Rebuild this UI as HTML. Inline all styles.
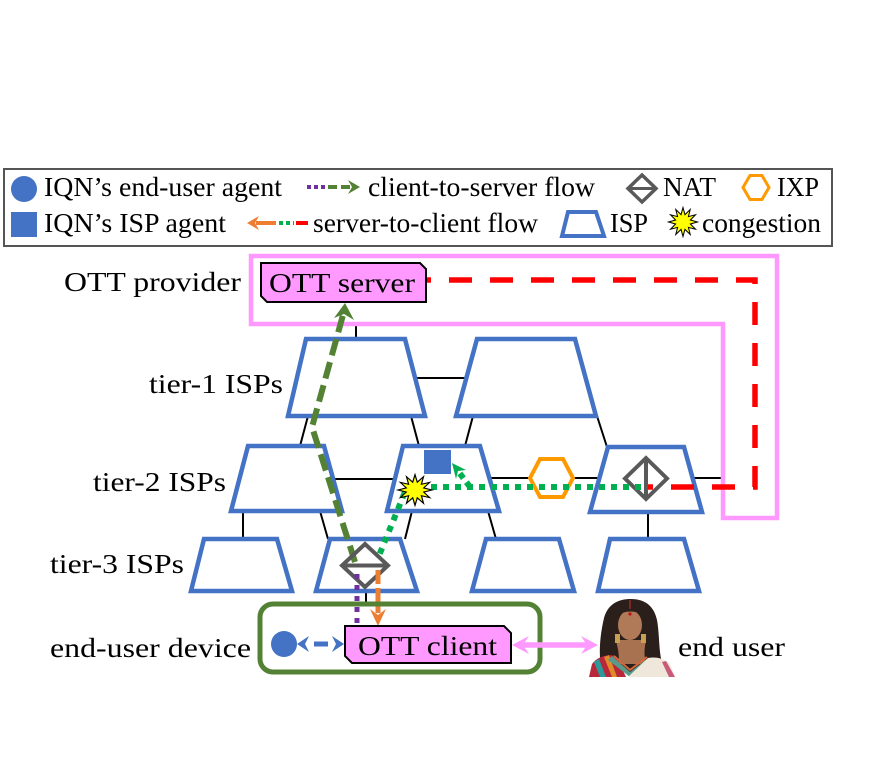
<!DOCTYPE html>
<html><head><meta charset="utf-8"><style>
html,body{margin:0;padding:0;background:#fff;}
svg{display:block;}
text{font-family:"Liberation Serif","DejaVu Serif",serif;font-size:27px;fill:#000;}
</style></head><body>
<svg width="874" height="768" viewBox="0 0 874 768" xmlns="http://www.w3.org/2000/svg">
<rect width="874" height="768" fill="#fff"/>

<!-- Legend -->
<rect x="4" y="169" width="828" height="77" fill="#fff" stroke="#555" stroke-width="2"/>
<circle cx="24" cy="189" r="13" fill="#4472C4"/>
<rect x="11" y="212" width="26" height="25" fill="#4472C4"/>
<text x="44" y="196" textLength="238" lengthAdjust="spacingAndGlyphs">IQN’s end-user agent</text>
<text x="44" y="232" textLength="182" lengthAdjust="spacingAndGlyphs">IQN’s ISP agent</text>
<line x1="307" y1="187" x2="326" y2="187" stroke="#7030A0" stroke-width="4" stroke-dasharray="4 3"/>
<line x1="328" y1="187" x2="351" y2="187" stroke="#548235" stroke-width="4" stroke-dasharray="9 4"/>
<polygon points="360,187 348,180 352,187 348,194" fill="#548235"/>
<text x="368" y="196" textLength="227" lengthAdjust="spacingAndGlyphs">client-to-server flow</text>
<polygon points="247,223 259,216 255,223 259,230" fill="#ED7D31"/>
<line x1="256" y1="223" x2="276" y2="223" stroke="#ED7D31" stroke-width="4"/>
<line x1="279" y1="223" x2="294" y2="223" stroke="#00B050" stroke-width="4" stroke-dasharray="4 3"/>
<line x1="296" y1="223" x2="308" y2="223" stroke="#FF0000" stroke-width="4"/>
<text x="313" y="232" textLength="225" lengthAdjust="spacingAndGlyphs">server-to-client flow</text>
<polygon points="642,175 656,188.5 642,202 628,188.5" fill="none" stroke="#595959" stroke-width="3.5"/>
<line x1="628" y1="188.5" x2="656" y2="188.5" stroke="#595959" stroke-width="3"/>
<text x="663" y="196" textLength="53" lengthAdjust="spacingAndGlyphs">NAT</text>
<polygon points="743,187.5 750,175.5 762,175.5 769,187.5 762,199.5 750,199.5" fill="none" stroke="#FF9900" stroke-width="3"/>
<text x="777" y="196" textLength="42" lengthAdjust="spacingAndGlyphs">IXP</text>
<polygon points="568,212 596,212 604,236 562,236" fill="none" stroke="#4472C4" stroke-width="4"/>
<text x="610" y="232" textLength="38" lengthAdjust="spacingAndGlyphs">ISP</text>
<g transform="translate(683,222) scale(0.85)">
<polygon points="17,0 8.7,2.3 14.7,8.5 6.4,6.4 8.5,14.7 2.3,8.7 0,17 -2.3,8.7 -8.5,14.7 -6.4,6.4 -14.7,8.5 -8.7,2.3 -17,0 -8.7,-2.3 -14.7,-8.5 -6.4,-6.4 -8.5,-14.7 -2.3,-8.7 0,-17 2.3,-8.7 8.5,-14.7 6.4,-6.4 14.7,-8.5 8.7,-2.3" fill="#FFFF00" stroke="#000" stroke-width="1.2"/>
</g>
<text x="702" y="232" textLength="119" lengthAdjust="spacingAndGlyphs">congestion</text>

<!-- Side labels -->
<text x="64" y="291" textLength="177" lengthAdjust="spacingAndGlyphs">OTT provider</text>
<text x="149" y="393" textLength="134" lengthAdjust="spacingAndGlyphs">tier-1 ISPs</text>
<text x="93" y="491" textLength="133" lengthAdjust="spacingAndGlyphs">tier-2 ISPs</text>
<text x="50" y="573" textLength="134" lengthAdjust="spacingAndGlyphs">tier-3 ISPs</text>
<text x="50" y="657" textLength="201" lengthAdjust="spacingAndGlyphs">end-user device</text>
<text x="678" y="656" textLength="107" lengthAdjust="spacingAndGlyphs">end user</text>

<!-- Black connector lines -->
<g stroke="#000" stroke-width="2">
<line x1="356" y1="325" x2="356" y2="339"/>
<line x1="414" y1="378" x2="467" y2="378"/>
<line x1="308" y1="416" x2="300" y2="446"/>
<line x1="411" y1="416" x2="419" y2="446"/>
<line x1="473" y1="416" x2="465" y2="446"/>
<line x1="597" y1="416" x2="607" y2="447"/>
<line x1="333" y1="479" x2="395" y2="479"/>
<line x1="489" y1="478" x2="530" y2="478"/>
<line x1="574" y1="478" x2="600" y2="478"/>
<line x1="693" y1="478" x2="722" y2="478"/>
<line x1="243" y1="511" x2="243" y2="539"/>
<line x1="320" y1="511" x2="328" y2="539"/>
<line x1="412" y1="511" x2="405" y2="539"/>
<line x1="488" y1="511" x2="496" y2="539"/>
<line x1="648" y1="512" x2="648" y2="539"/>
<line x1="366" y1="591" x2="366" y2="604"/>
</g>

<!-- ISP trapezoids -->
<g fill="#fff" stroke="#4472C4" stroke-width="4.5" stroke-linejoin="miter">
<polygon points="306,339 405,339 425,416 288,416"/>
<polygon points="477,339 575,339 596,416 456,416"/>
<polygon points="248,446 324,446 342,511 231,511"/>
<polygon points="403,446 480,446 499,511 387,511"/>
<polygon points="608,447 684,447 702,512 590,512"/>
<polygon points="204,539 277,539 292,591 191,591"/>
<polygon points="330,539 400,539 417,591 316,591"/>
<polygon points="486,539 559,539 574,591 472,591"/>
<polygon points="610,539 684,539 699,591 598,591"/>
</g>

<!-- Pink OTT provider region -->
<polygon points="251,256 777,256 777,518 723,518 723,324 251,324" fill="none" stroke="#FF99FF" stroke-width="4.5"/>

<!-- Red dashed server-to-client -->
<path d="M408,280 H755 V487 H648" fill="none" stroke="#FF0000" stroke-width="5.5" stroke-dasharray="23 18"/>

<!-- OTT server -->
<polygon points="261,263 420,263 426,269 426,302 267,302 261,296" fill="#FF99FF" stroke="#000" stroke-width="2"/>
<text x="269" y="292" textLength="146" lengthAdjust="spacingAndGlyphs">OTT server</text>

<!-- IXP -->
<polygon points="530,478 540,459 563,459 573,478 563,497 540,497" fill="#fff" stroke="#FF9900" stroke-width="4"/>

<!-- NAT diamonds -->
<polygon points="646,458 667,478.5 646,499 625,478.5" fill="none" stroke="#595959" stroke-width="4"/>
<line x1="646" y1="458" x2="646" y2="499" stroke="#595959" stroke-width="4"/>

<!-- ISP agent -->
<rect x="424" y="450" width="27" height="24" fill="#4472C4"/>

<!-- Green dotted server-to-client -->
<path d="M641,487 H407 L378,558" fill="none" stroke="#00B050" stroke-width="6" stroke-dasharray="6 6"/>
<path d="M470,487 L458,471" fill="none" stroke="#00B050" stroke-width="6" stroke-dasharray="6 5"/>
<polygon points="452,463 466,470 458,471 456,479" fill="#00B050"/>

<!-- Congestion star -->
<g transform="translate(415,490) scale(1,0.9)">
<polygon points="17,0 8.7,2.3 14.7,8.5 6.4,6.4 8.5,14.7 2.3,8.7 0,17 -2.3,8.7 -8.5,14.7 -6.4,6.4 -14.7,8.5 -8.7,2.3 -17,0 -8.7,-2.3 -14.7,-8.5 -6.4,-6.4 -8.5,-14.7 -2.3,-8.7 0,-17 2.3,-8.7 8.5,-14.7 6.4,-6.4 14.7,-8.5 8.7,-2.3" fill="#FFFF00" stroke="#000" stroke-width="1.2"/>
</g>

<!-- Green dashed client-to-server -->
<path d="M355,562 L312,427 L343,315" fill="none" stroke="#548235" stroke-width="6" stroke-dasharray="17 7"/>
<polygon points="345,303 354,320 344,314 334,318" fill="#548235"/>

<!-- Tier-3 NAT -->
<polygon points="365,544 388,565.5 365,587 342,565.5" fill="none" stroke="#595959" stroke-width="4"/>
<line x1="342" y1="565.5" x2="388" y2="565.5" stroke="#595959" stroke-width="4"/>

<!-- Purple dotted & orange dashed -->
<line x1="357" y1="574" x2="357" y2="626" stroke="#7030A0" stroke-width="5" stroke-dasharray="5 6"/>
<line x1="378" y1="570" x2="378" y2="613" stroke="#ED7D31" stroke-width="5" stroke-dasharray="14 4"/>
<polygon points="378,626 370,609 378,615 386,609" fill="#ED7D31"/>

<!-- End-user device box -->
<rect x="260" y="604" width="280" height="68" rx="13" ry="13" fill="none" stroke="#548235" stroke-width="5"/>
<circle cx="284" cy="644" r="13" fill="#4472C4"/>
<polygon points="297,644 309,636 305,644 309,652" fill="#4472C4"/>
<line x1="314" y1="644" x2="328" y2="644" stroke="#4472C4" stroke-width="5"/>
<polygon points="344,644 332,636 336,644 332,652" fill="#4472C4"/>

<!-- OTT client -->
<polygon points="345,626 504,626 511,633 511,663 352,663 345,656" fill="#FF99FF" stroke="#000" stroke-width="2"/>
<text x="358" y="655" textLength="139" lengthAdjust="spacingAndGlyphs">OTT client</text>

<!-- Pink double arrow -->
<line x1="522" y1="645" x2="588" y2="645" stroke="#FF99FF" stroke-width="5.5"/>
<polygon points="512,645 529,636 523,645 529,654" fill="#FF99FF"/>
<polygon points="598,645 581,636 587,645 581,654" fill="#FF99FF"/>

<!-- End user photo approximation -->
<g>
<path d="M602,672 C598,655 600,635 604,618 C608,604 618,599 631,599 C645,599 654,606 657,620 C660,636 658,655 664,668 L650,672 Z" fill="#2a1f1b"/>
<path d="M616,640 C618,650 620,656 618,664 L646,664 C644,656 644,650 646,640 Z" fill="#a8714f"/>
<ellipse cx="630" cy="625" rx="12" ry="15" fill="#b07a58"/>
<path d="M617,616 C620,606 640,606 643,616 C638,610 624,610 617,616 Z" fill="#2a1f1b"/>
<line x1="630" y1="600" x2="630" y2="609" stroke="#b0302a" stroke-width="1.2"/>
<circle cx="630" cy="614" r="1.6" fill="#c0141e"/>
<rect x="615" y="634" width="5" height="9" fill="#c9a050"/>
<rect x="641" y="634" width="5" height="9" fill="#c9a050"/>
<path d="M589,677 L592,664 C598,656 608,654 616,656 L626,677 Z" fill="#b8283a"/>
<path d="M594,662 L600,677 L606,677 L599,659 Z" fill="#2a9a9a"/>
<path d="M604,657 L612,677 L617,677 L609,655 Z" fill="#e08a2a"/>
<path d="M612,656 L630,672 L648,658 L652,661 L630,677 L608,660 Z" fill="#5a9a8a"/>
<path d="M614,656 L630,670 L647,657" fill="none" stroke="#d9653a" stroke-width="2"/>
<path d="M648,658 C658,656 666,660 670,664 L675,677 L628,677 Z" fill="#efe8da"/>
<path d="M666,661 L675,677 L669,677 L662,662 Z" fill="#c85a7a"/>
</g>
</svg>
</body></html>
